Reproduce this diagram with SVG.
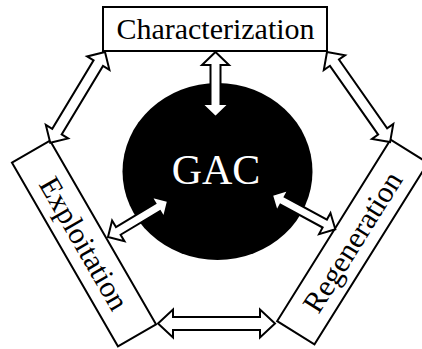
<svg xmlns="http://www.w3.org/2000/svg" width="422" height="349" viewBox="0 0 422 349">
<style>
.box{fill:#fff;stroke:#000;stroke-width:2}
.lbl{font-family:"Liberation Serif","Times New Roman",serif;font-size:30px;fill:#000;text-anchor:middle}
.arr{fill:#fff;stroke:#000;stroke-width:2;stroke-linejoin:miter}
</style>
<rect width="422" height="349" fill="#fff"/>
<g id="gac">
<ellipse cx="217.5" cy="171.5" rx="95" ry="88.5" fill="#000"/>
<text x="216" y="184" style="font-family:'Liberation Serif','Times New Roman',serif;font-size:42px;fill:#fff;text-anchor:middle">GAC</text>
</g>
<g id="characterization">
<rect class="box" x="103" y="7" width="224" height="44"/>
<text class="lbl" x="215.5" y="39">Characterization</text>
</g>
<g id="exploitation" transform="translate(84,243.5) rotate(60)">
<rect class="box" x="-106" y="-22" width="212" height="44"/>
<text class="lbl" x="0" y="10">Exploitation</text>
</g>
<g id="regeneration" transform="translate(352.5,242) rotate(-58)">
<rect class="box" x="-107" y="-22" width="214" height="44"/>
<text class="lbl" x="0" y="10">Regeneration</text>
</g>
<g id="connectors">
<path class="arr" transform="translate(215.5,52) rotate(90)" d="M0,0 L13,-13.5 L13,-5 L52,-5 L52,-13.5 L65,0 L52,13.5 L52,5 L13,5 L13,13.5 Z"/>
<path class="arr" transform="translate(105,52) rotate(121.1)" d="M0,0 L13,-13 L13,-5.5 L93,-5.5 L93,-13 L106,0 L93,13 L93,5.5 L13,5.5 L13,13 Z"/>
<path class="arr" transform="translate(327,52) rotate(55)" d="M0,0 L13,-13 L13,-5.5 L97,-5.5 L97,-13 L110,0 L97,13 L97,5.5 L13,5.5 L13,13 Z"/>
<path class="arr" transform="translate(158,323.5)" d="M0,0 L15,-14 L15,-6.5 L102,-6.5 L102,-14 L117,0 L102,14 L102,6.5 L15,6.5 L15,14 Z"/>
<path class="arr" transform="translate(168,201) rotate(149)" d="M0,0 L12,-12 L12,-4.5 L58,-4.5 L58,-12 L70,0 L58,12 L58,4.5 L12,4.5 L12,12 Z"/>
<path class="arr" transform="translate(272,195) rotate(28.4)" d="M0,0 L12,-12 L12,-4.5 L60,-4.5 L60,-12 L72,0 L60,12 L60,4.5 L12,4.5 L12,12 Z"/>
</g>
</svg>
